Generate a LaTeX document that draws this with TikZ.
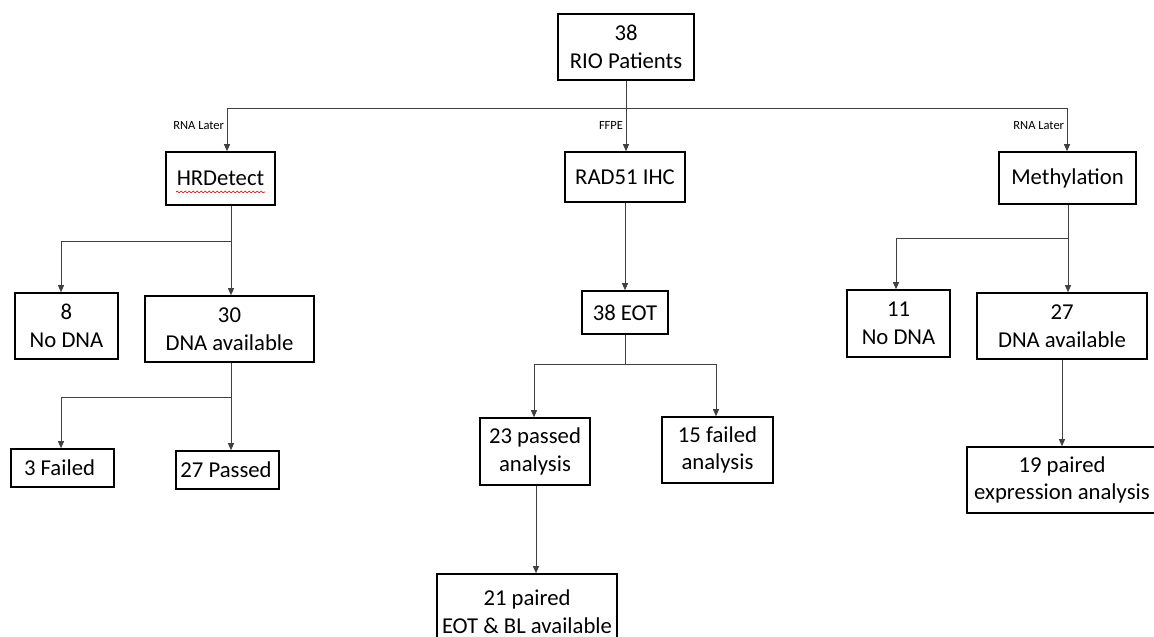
\documentclass[tikz,border=0pt]{standalone}
\usepackage{fontspec}
\setmainfont{Carlito}
\usetikzlibrary{arrows.meta,decorations.pathmorphing}
\begin{document}
\begin{tikzpicture}[x=1pt,y=-1pt,
  box/.style={draw=black, line width=1.6pt, align=center, inner sep=0pt,
    font=\fontsize{22.7}{27.7}\selectfont, anchor=center},
  conn/.style={draw=black!75, line width=0.9pt},
  arr/.style={conn, -{Triangle[length=7pt,width=6pt]}},
  lab/.style={font=\fontsize{12.5}{14}\selectfont, anchor=east, inner sep=2.5pt}
]
\useasboundingbox (0,0) rectangle (1154,637);
\clip (0,0) rectangle (1154,637);

% boxes
\node[box, minimum width=136pt, minimum height=66pt] (root) at (626,47) {38\\RIO Patients};
\node[box, minimum width=109pt, minimum height=53pt] (hrd) at (220.5,178.5) {HRDetect};
\node[box, minimum width=120pt, minimum height=50pt] (rad) at (625,177) {RAD51 IHC};
\node[box, minimum width=137pt, minimum height=52pt] (meth) at (1067.5,178) {Methylation};

\node[box, minimum width=103pt, minimum height=66pt] (no8) at (66.5,326) {8\\No DNA};
\node[box, minimum width=169pt, minimum height=66pt] (dna30) at (229.5,329) {30\\DNA available};
\node[box, minimum width=103pt, minimum height=38pt] (fail3) at (62.5,468) {3 Failed\hspace{6pt}};
\node[box, minimum width=103pt, minimum height=38pt] (pass27) at (227.5,470) {27 Passed\hspace{3pt}};

\node[box, minimum width=86pt, minimum height=43pt] (eot) at (625,312.5) {38 EOT};
\node[box, minimum width=110pt, minimum height=67pt] (p23) at (535,451.5) {23 passed\\analysis};
\node[box, minimum width=111pt, minimum height=66pt] (f15) at (717.5,450) {15 failed\\analysis};
\node[box, minimum width=180pt, minimum height=76pt] (p21) at (527,612) {21 paired\\EOT \& BL available};

\node[box, minimum width=103pt, minimum height=67pt] (n11) at (898.5,323.5) {11\\No DNA};
\node[box, minimum width=170pt, minimum height=66pt] (d27) at (1062,326) {27\\DNA available};
\node[box, minimum width=190pt, minimum height=66pt] (p19) at (1062,480) {19 paired\\expression analysis};

% spell-check squiggle under HRDetect
\draw[red!85!black, line width=0.6pt, decorate,
  decoration={snake, segment length=4pt, amplitude=0.9pt}]
  (176,192) -- (265,192);

% bus coordinates
\coordinate (b0) at (626,108);
\coordinate (bL) at (227,108);
\coordinate (bR) at (1067,108);
\coordinate (h1) at (231,241);
\coordinate (h2) at (61,241);
\coordinate (d1) at (231,397);
\coordinate (d2) at (61,397);
\coordinate (e0) at (625,364);
\coordinate (eL) at (534,364);
\coordinate (eR) at (716,364);
\coordinate (q) at (536,530);
\coordinate (m0) at (1068,238);
\coordinate (mL) at (896,238);

% top level
\draw[conn] (root.south) -- (b0);
\draw[conn] (bL) -- (bR);
\draw[arr] (bL) -- node[lab, pos=0.4] {RNA Later} (hrd.north -| bL);
\draw[arr] (b0) -- node[lab, pos=0.4] {FFPE} (rad.north -| b0);
\draw[arr] (bR) -- node[lab, pos=0.4] {RNA Later} (meth.north -| bR);

% HRDetect branch
\draw[conn] (hrd.south -| h1) -- (h1);
\draw[conn] (h2) -- (h1);
\draw[arr] (h2) -- (no8.north -| h2);
\draw[arr] (h1) -- (dna30.north -| h1);
\draw[conn] (dna30.south -| d1) -- (d1);
\draw[conn] (d2) -- (d1);
\draw[arr] (d2) -- (fail3.north -| d2);
\draw[arr] (d1) -- (pass27.north -| d1);

% RAD51 branch
\draw[arr] (rad.south) -- (eot.north);
\draw[conn] (eot.south) -- (e0);
\draw[conn] (eL) -- (eR);
\draw[arr] (eL) -- (p23.north -| eL);
\draw[arr] (eR) -- (f15.north -| eR);
\draw[arr] (p23.south -| q) -- (p21.north -| q);

% Methylation branch
\draw[conn] (meth.south -| m0) -- (m0);
\draw[conn] (mL) -- (m0);
\draw[arr] (mL) -- (n11.north -| mL);
\draw[arr] (m0) -- (d27.north -| m0);
\draw[arr] (d27.south) -- (p19.north);
\end{tikzpicture}
\end{document}
